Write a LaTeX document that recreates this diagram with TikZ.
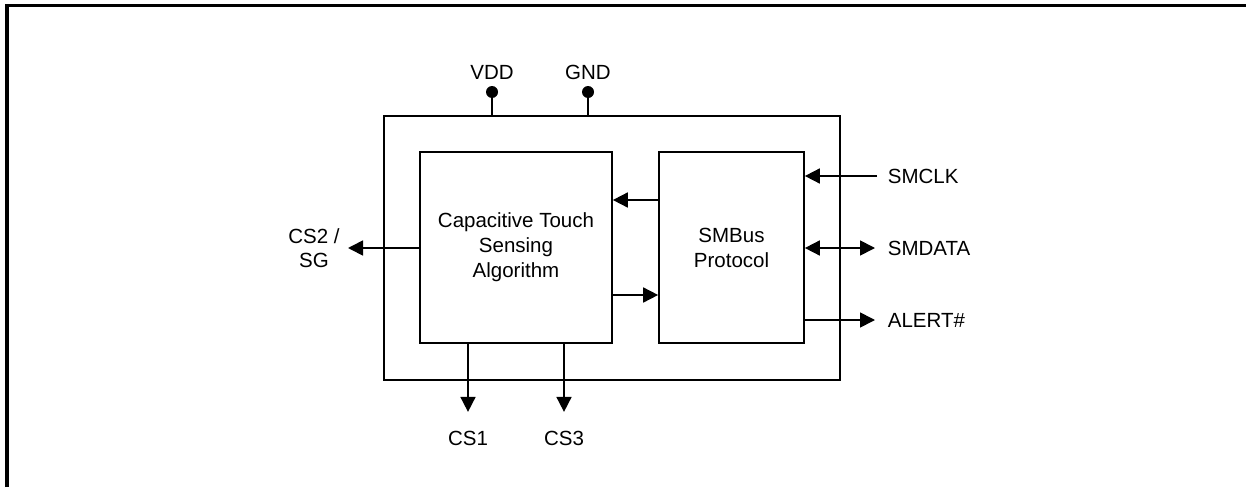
\documentclass[tikz,border=0pt]{standalone}
\usepackage{fontspec}
\setmainfont{Liberation Sans}
\usetikzlibrary{arrows.meta}
\begin{document}
\begin{tikzpicture}[x=1pt,y=-1pt,line width=1.7pt,
  box/.style={draw,inner sep=0pt,font=\fontsize{20.5}{25}\selectfont,align=center},
  lbl/.style={inner sep=0pt,font=\fontsize{20.5}{24}\selectfont,align=center},
  arr/.style={-{Triangle[length=15pt,width=15pt]}},
  darr/.style={{Triangle[length=15pt,width=15pt]}-{Triangle[length=15pt,width=15pt]}}]
\useasboundingbox (0,0) rectangle (1246,487);
% frame
\draw[line width=3.2pt] (7,487) -- (7,5.5) -- (1246,5.5);
% boxes
\node[box,minimum width=456pt,minimum height=264pt] (chip) at (612,248) {};
\node[box,minimum width=192pt,minimum height=191pt] (cts) at (516,247.5) {Capacitive Touch\\Sensing\\Algorithm};
\node[box,minimum width=145pt,minimum height=191pt] (smb) at (731.5,247.5) {SMBus\\Protocol};
% power pins
\coordinate (vdd) at (492,92);
\coordinate (gnd) at (588,92);
\draw (vdd) -- (vdd |- chip.north);
\draw (gnd) -- (gnd |- chip.north);
\fill (vdd) circle (6pt);
\fill (gnd) circle (6pt);
\node[lbl] (vddl) at (492,72) {VDD};
\node[lbl] (gndl) at (588,72) {GND};
% internal arrows
\draw[arr] (smb.west |- 0,200) -- (cts.east |- 0,200);
\draw[arr] (cts.east |- 0,295) -- (smb.west |- 0,295);
% right side signals
\node[lbl,anchor=west] (smclk) at (887,176) {SMCLK};
\node[lbl,anchor=west] (smdata) at (887,248) {SMDATA};
\node[lbl,anchor=west] (alert) at (887,320) {ALERT\#};
\draw[arr] ([xshift=-10pt]smclk.west) -- (smb.east |- smclk.west);
\draw[darr] (smb.east |- smdata.west) -- ([xshift=-12pt]smdata.west);
\draw[arr] (smb.east |- alert.west) -- ([xshift=-12pt]alert.west);
% left signal
\node[lbl] (cs2) at (314,248) {CS2 /\\SG};
\coordinate (cs2e) at (348,248);
\draw[arr] (cts.west |- cs2e) -- (cs2e);
% bottom signals
\node[lbl] (cs1) at (468,438) {CS1};
\node[lbl] (cs3) at (564,438) {CS3};
\draw[arr] (cts.south -| cs1) -- ([yshift=18pt]cs1.north);
\draw[arr] (cts.south -| cs3) -- ([yshift=18pt]cs3.north);
\end{tikzpicture}
\end{document}
